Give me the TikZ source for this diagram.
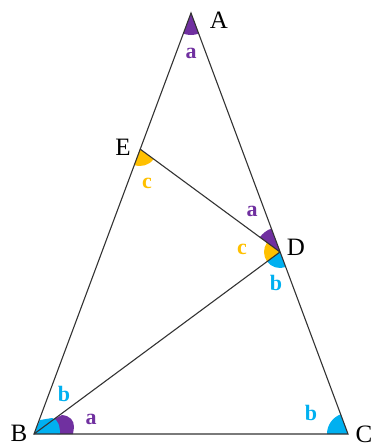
\documentclass[tikz,border=0pt]{standalone}
\usepackage{fontspec}
\setmainfont{Liberation Serif}
\definecolor{marka}{HTML}{7030A0}
\definecolor{markb}{HTML}{00B0F0}
\definecolor{markc}{HTML}{FFC000}
\begin{document}
\begin{tikzpicture}[x=1pt, y=-1pt,
    side/.style={line width=1.1pt, black!80},
    vlabel/.style={font=\fontsize{25}{25}\selectfont},
    alabel/.style={font=\fontsize{22}{22}\selectfont\bfseries}]
    \useasboundingbox (0,0) rectangle (375,448);

    % Vertices
    \coordinate (A) at (191,13);
    \coordinate (B) at (34,434);
    \coordinate (C) at (348,434);
    \coordinate (E) at (140,149);
    \coordinate (D) at (280,252);

    % Angle marks
    \fill[marka] (A) -- ++(69.55:22) arc[start angle=69.55, end angle=110.45, radius=22] -- cycle;
    \fill[markc] (E) -- ++(36.3:17) arc[start angle=36.3, end angle=110.4, radius=17] -- cycle;
    \fill[marka] (D) -- ++(216.3:25) arc[start angle=216.3, end angle=249.6, radius=25] -- cycle;
    \fill[markc] (D) -- ++(143.5:16) arc[start angle=143.5, end angle=216.3, radius=16] -- cycle;
    \fill[markb] (D) -- ++(69.5:16) arc[start angle=69.5, end angle=143.5, radius=16] -- cycle;
    \fill[markb] (C) -- ++(180:21) arc[start angle=180, end angle=249.55, radius=21] -- cycle;
    \fill[marka] (57,434) -- (54,419) -- (62,415)
        .. controls (70,416) and (74,420) .. (74,427) -- (73,434) -- cycle;
    \fill[markb] (B) -- (40,420) -- (52,418)
        .. controls (58,419) and (60,426) .. (60,434) -- cycle;

    % Sides
    \draw[side] (A) -- (B) -- (C) -- cycle;
    \draw[side] (E) -- (D);
    \draw[side] (B) -- (D);

    % Vertex labels
    \node[vlabel] (lA) at (219,20) {A};
    \node[vlabel] (lB) at (19,433) {B};
    \node[vlabel] (lC) at (364,434) {C};
    \node[vlabel] (lD) at (296,247) {D};
    \node[vlabel] (lE) at (123,147) {E};

    % Angle labels
    \node[alabel, marka] (aA) at (191,53) {a};
    \node[alabel, markc] (cE) at (147,183) {c};
    \node[alabel, marka] (aD) at (252,211) {a};
    \node[alabel, markc] (cD) at (242,249) {c};
    \node[alabel, markb] (bD) at (276,283) {b};
    \node[alabel, markb] (bB) at (64,394) {b};
    \node[alabel, marka] (aB) at (91,419) {a};
    \node[alabel, markb] (bC) at (311,413) {b};
\end{tikzpicture}
\end{document}
